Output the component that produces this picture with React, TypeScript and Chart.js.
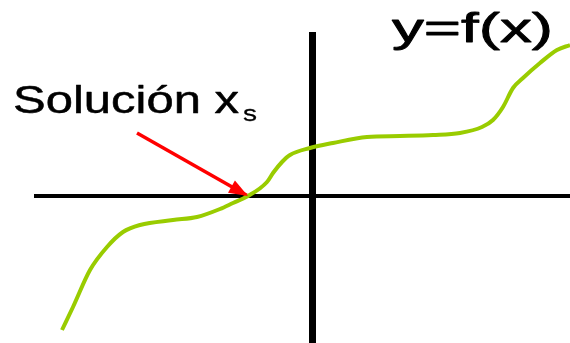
import React, { useEffect, useRef } from "react";
import { Chart, registerables } from "chart.js";

Chart.register(...registerables);

// f(x) curve samples
const curveX = [-5.01, -4.79, -4.45, -4.11, -3.79, -3.45, -2.79, -2.31, -1.85, -1.59, -1.29, -0.91, -0.79, -0.61, -0.45, -0.05, 0.41, 1.09, 1.75, 2.41, 2.95, 3.39, 3.61, 3.81, 4.01, 4.21, 4.55, 4.89, 5.15];
const curveY = [-2.68, -2.22, -1.48, -1.02, -0.72, -0.58, -0.48, -0.42, -0.26, -0.14, 0, 0.28, 0.46, 0.68, 0.82, 0.96, 1.06, 1.18, 1.2, 1.22, 1.26, 1.38, 1.52, 1.78, 2.16, 2.36, 2.66, 2.92, 3.02];

// arrow pointing at the root x_s
const arrowX = [-3.51, -1.29];
const arrowY = [1.26, 0];

// axis extents
const xRange = [-5.53, 5.15];
const yRange = [-2.94, 3.22];

// texts
const titleText = "y=f(x)";
const solutionText = "Solución x";
const solutionSub = "s";

function drawStretched(ctx: CanvasRenderingContext2D, text: string, font: string, left: number, baseline: number, targetWidth: number, stroke: number) {
  ctx.save();
  ctx.font = font;
  const w = ctx.measureText(text).width;
  ctx.translate(left, baseline);
  ctx.scale(targetWidth / w, 1);
  ctx.fillStyle = "#000";
  ctx.strokeStyle = "#000";
  ctx.lineWidth = stroke;
  ctx.lineJoin = "round";
  ctx.textBaseline = "alphabetic";
  ctx.textAlign = "left";
  ctx.fillText(text, 0, 0);
  if (stroke > 0) ctx.strokeText(text, 0, 0);
  ctx.restore();
}

const annotPlugin = {
  id: "annot",
  afterDatasetsDraw(chart: any) {
    const ctx: CanvasRenderingContext2D = chart.ctx;
    const meta = chart.getDatasetMeta(1);
    const pts = meta.data;
    const p0 = pts[0];
    const p1 = pts[pts.length - 1];
    const ang = Math.atan2(p1.y - p0.y, p1.x - p0.x);
    const c = Math.cos(ang);
    const s = Math.sin(ang);
    const L = 19;
    const W = 7;
    ctx.save();
    ctx.fillStyle = "#ff0000";
    ctx.beginPath();
    ctx.moveTo(p1.x, p1.y);
    ctx.lineTo(p1.x - L * c + W * s, p1.y - L * s - W * c);
    ctx.lineTo(p1.x - L * c - W * s, p1.y - L * s + W * c);
    ctx.closePath();
    ctx.fill();
    ctx.restore();
  },
  afterDraw(chart: any) {
    const ctx: CanvasRenderingContext2D = chart.ctx;
    drawStretched(ctx, titleText, '40px "Liberation Sans", Arial, sans-serif', 392, 42, 161, 0.8);
    drawStretched(ctx, solutionText, '39px "Liberation Sans", Arial, sans-serif', 13, 113, 226, 0.5);
    drawStretched(ctx, solutionSub, '22px "Liberation Sans", Arial, sans-serif', 243, 121, 14, 0.3);
  },
};

export default function App() {
  const canvasRef = useRef<HTMLCanvasElement | null>(null);

  useEffect(() => {
    const canvas = canvasRef.current;
    if (!canvas) return;
    const chart = new Chart(canvas, {
      type: "scatter",
      data: {
        datasets: [
          {
            label: "f(x)",
            data: curveX.map((x, i) => ({ x, y: curveY[i] })),
            showLine: true,
            borderColor: "#99cc00",
            backgroundColor: "#99cc00",
            borderWidth: 4,
            pointRadius: 0,
            cubicInterpolationMode: "monotone",
            fill: false,
          },
          {
            label: "arrow",
            data: arrowX.map((x, i) => ({ x, y: arrowY[i] })),
            showLine: true,
            borderColor: "#ff0000",
            backgroundColor: "#ff0000",
            borderWidth: 3.5,
            pointRadius: 0,
            fill: false,
          },
        ],
      },
      options: {
        responsive: false,
        animation: false,
        devicePixelRatio: 1,
        layout: { padding: { left: 36, top: 35, right: 0, bottom: 0 } },
        plugins: {
          legend: { display: false },
          tooltip: { enabled: false },
          title: { display: false },
        },
        events: [],
        scales: {
          x: {
            type: "linear",
            min: xRange[0],
            max: xRange[1],
            position: { y: 0 },
            ticks: { display: false },
            grid: { display: false, drawTicks: false },
            border: { display: true, width: 4, color: "#000" },
            z: 0,
          },
          y: {
            type: "linear",
            min: yRange[0],
            max: yRange[1],
            position: { x: 0 },
            ticks: { display: false },
            grid: { display: false, drawTicks: false },
            border: { display: true, width: 7, color: "#000" },
            z: 1,
          },
        },
      } as any,
      plugins: [annotPlugin],
    });
    return () => chart.destroy();
  }, []);

  return (
    <div style={{ position: "absolute", left: 0, top: 0, width: 570, height: 343, background: "#fff" }}>
      <canvas ref={canvasRef} width={570} height={343} />
    </div>
  );
}
